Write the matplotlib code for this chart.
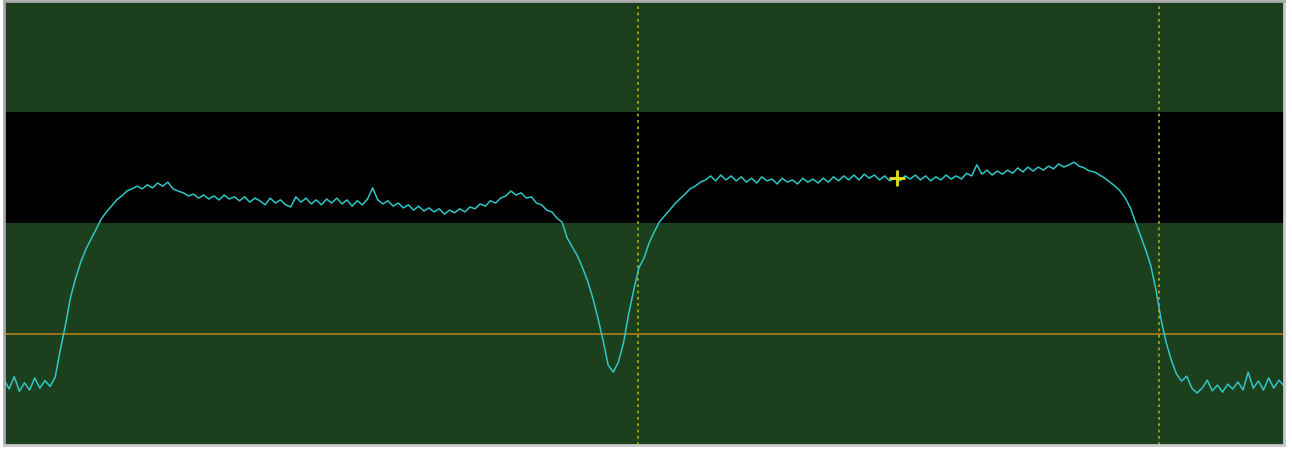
import matplotlib
matplotlib.use("Agg")
import matplotlib.pyplot as plt
import numpy as np

# sweep trace, level in dB (top of screen 0 dB, bottom -100 dB)
level = [
    -85.2, -87.4, -84.6, -87.9, -86.0, -87.6, -84.9, -87.2, -85.5, -86.8,
    -84.7, -78.6, -73.0, -66.7, -62.4, -58.8, -55.9, -53.6, -51.4, -49.1,
    -47.5, -46.2, -44.8, -43.9, -42.8, -42.3, -41.7, -42.3, -41.4, -42.1,
    -41.0, -41.7, -40.8, -42.3, -42.8, -43.2, -43.9, -43.5, -44.4, -43.7,
    -44.6, -43.9, -44.8, -43.7, -44.6, -44.1, -45.0, -44.1, -45.3, -44.4,
    -45.0, -45.9, -44.4, -45.5, -44.8, -45.9, -46.4, -44.1, -45.3, -44.4,
    -45.7, -44.8, -45.9, -44.6, -45.5, -44.4, -45.7, -44.8, -46.2, -45.0,
    -45.9, -44.6, -42.1, -44.8, -45.7, -45.0, -46.2, -45.5, -46.6, -45.9,
    -47.1, -46.2, -47.3, -46.6, -47.5, -46.8, -48.0, -47.1, -47.7, -46.8,
    -47.5, -46.4, -46.8, -45.7, -46.2, -45.0, -45.5, -44.4, -43.9, -42.8,
    -43.7, -43.2, -44.4, -44.1, -45.5, -45.9, -47.1, -47.5, -48.9, -49.8,
    -53.4, -55.4, -57.4, -60.1, -63.1, -66.9, -71.4, -76.4, -82.0, -83.6,
    -81.3, -77.0, -70.5, -65.1, -60.1, -57.9, -54.5, -52.0, -49.8, -48.4,
    -47.1, -45.7, -44.6, -43.5, -42.3, -41.7, -40.8, -40.3, -39.4, -40.5,
    -39.2, -40.3, -39.4, -40.5, -39.6, -40.8, -39.9, -41.0, -39.6, -40.5,
    -40.1, -41.2, -39.9, -40.8, -40.3, -41.2, -39.9, -40.8, -40.1, -41.0,
    -39.9, -40.8, -39.6, -40.5, -39.4, -40.3, -39.2, -40.3, -39.0, -39.9,
    -39.2, -40.3, -39.4, -40.5, -39.9, -40.5, -39.4, -40.1, -39.2, -40.3,
    -39.4, -40.5, -39.6, -40.3, -39.2, -40.1, -39.4, -40.1, -38.8, -39.4,
    -36.9, -39.0, -38.1, -39.2, -38.3, -39.0, -38.1, -38.8, -37.6, -38.5,
    -37.4, -38.3, -37.4, -38.1, -37.2, -37.8, -36.7, -37.4, -36.9, -36.3,
    -37.2, -37.6, -38.3, -38.5, -39.2, -39.9, -40.8, -41.7, -42.8, -44.4,
    -46.6, -49.8, -52.9, -56.1, -59.7, -65.1, -71.8, -77.0, -80.9, -84.0,
    -85.6, -84.5, -87.2, -88.3, -87.2, -85.4, -87.8, -86.5, -88.1, -86.3,
    -87.4, -85.8, -87.6, -83.6, -87.2, -85.6, -87.6, -84.9, -87.2, -85.4,
    -86.7,
]
span = (0, 100)                # horizontal span, screen units
freq = np.linspace(span[0], span[1], len(level))

band_low, band_high = -50, -25   # black window
ref_level = -75                  # orange threshold line
markers = [49.5, 90.2]           # dotted vertical markers
cursor = (69.8, -39.9)           # yellow cross

fig = plt.figure(figsize=(12.92, 4.5), dpi=100)
fig.patch.set_facecolor("white")
ax = fig.add_axes([4 / 1292, 5 / 450, 1280 / 1292, 444 / 450])

ax.axhspan(-100, band_low, color="#1c401d", lw=0)
ax.axhspan(band_low, band_high, color="#000000", lw=0)
ax.axhspan(band_high, 0, color="#1a3e1b", lw=0)

ax.axhline(ref_level, color="#b27a1c", lw=1.2)
for m in markers:
    ax.axvline(m, color="#a8a412", lw=1.3, ls=(0, (1.5, 2)))

ax.plot(freq, level, color="#2fc6c6", lw=1.1)
ax.plot(*cursor, marker="+", color="#e8e21c", ms=11, mew=2)

ax.set_xlim(*span)
ax.set_ylim(-100, 0)
ax.set_xticks([])
ax.set_yticks([])
for side in ["left", "top"]:
    ax.spines[side].set_color("#a8a8a8")
    ax.spines[side].set_linewidth(2)
for side in ["right", "bottom"]:
    ax.spines[side].set_color("#c8c8c8")
    ax.spines[side].set_linewidth(2)

fig.savefig("out.png", dpi=100)
